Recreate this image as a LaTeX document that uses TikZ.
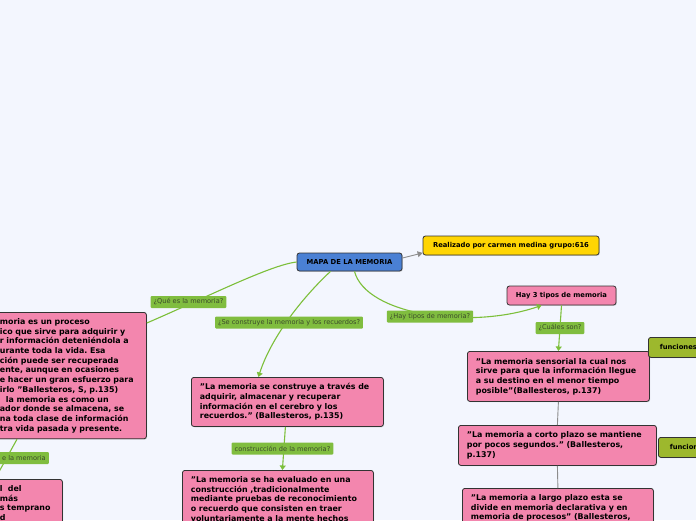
\documentclass[tikz,border=0pt]{standalone}
\usepackage{fontspec}
\setmainfont{DejaVu Sans}
\usepackage{xcolor}
\usetikzlibrary{arrows.meta, positioning, calc, shadows}
\frenchspacing

\definecolor{paper}{HTML}{F3F6FE}
\definecolor{notepink}{HTML}{F386AE}
\definecolor{mapblue}{HTML}{4A80D4}
\definecolor{doneyellow}{HTML}{FFD503}
\definecolor{useolive}{HTML}{9DB82D}
\definecolor{taggreen}{HTML}{80BD3F}
\definecolor{tagtext}{HTML}{3B4A2A}
\definecolor{linkgreen}{HTML}{7CBF3A}

\begin{document}
\begin{tikzpicture}[
      x=1pt, y=-1pt,
      topic/.style={draw=black!80, line width=0.8pt, rounded corners=2.5pt,
        font=\bfseries\fontsize{6.8}{8}\selectfont, minimum height=19pt, inner sep=0pt,
        drop shadow={shadow xshift=0.8pt, shadow yshift=-0.8pt, opacity=0.3}},
      note/.style={topic, fill=notepink, anchor=north west, align=left,
        font=\bfseries\fontsize{7.9}{9.7}\selectfont, inner xsep=8.5pt, inner ysep=6pt},
      tag/.style={fill=taggreen, text=tagtext, rounded corners=1pt, inner xsep=3pt,
        inner ysep=0pt, minimum height=12pt, font=\fontsize{6.6}{8}\selectfont},
      link/.style={draw=linkgreen, line width=1.1pt},
      fork/.style={draw=black!45, line width=0.9pt},
      tip/.style={-{Triangle[width=6pt,length=4.5pt]}}
    ]
  \useasboundingbox (0,0) rectangle (696,520);
  \fill[paper] (0,0) rectangle (696,520);

  % centre and side topics
  \node[topic, fill=mapblue, minimum width=105pt, minimum height=18pt] (map) at (349.5,262) {MAPA DE LA MEMORIA};
  \node[topic, fill=doneyellow, minimum width=176pt] (done) at (511,245.5) {Realizado por carmen medina grupo:616};
  \node[topic, fill=notepink, minimum width=109pt] (kinds) at (561.5,295.5) {Hay 3 tipos de memoria};

  % notes
  \node[note, text width=138pt, minimum height=125pt] (what) at (-9,312)
    {moria es un proceso\\ico que sirve para adquirir y\\r información deteniéndola a\\urante toda la vida. Esa\\ción puede ser recuperada\\ente, aunque en ocasiones\\e hacer un gran esfuerzo para\\irlo "Ballesteros, S, p.135)\\\hspace*{6pt}la memoria es como un\\ador donde se almacena, se\\na toda clase de información\\tra vida pasada y presente.};
  \node[note, text width=54pt] (early) at (-9,479)
    {l\ \ del\\más\\s temprano\\d};
  \node[note, text width=175pt, minimum height=49pt] (build) at (191,377)
    {"La memoria se construye a través de\\adquirir, almacenar y recuperar\\información en el cerebro y los\\recuerdos.” (Ballesteros, p.135)};
  \node[note, text width=174pt] (eval) at (182,470)
    {"La memoria se ha evaluado en una\\construcción ,tradicionalmente\\mediante pruebas de reconocimiento\\o recuerdo que consisten en traer\\voluntariamente a la mente hechos};
  \node[note, text width=165pt, minimum height=50pt] (sensory) at (467,351)
    {"La memoria sensorial la cual nos\\sirve para que la información llegue\\a su destino en el menor tiempo\\posible"(Ballesteros, p.137)};
  \node[note, text width=181pt, minimum height=40pt] (short) at (458,425)
    {"La memoria a corto plazo se mantiene\\por pocos segundos." (Ballesteros,\\p.137)};
  \node[note, text width=174pt] (long) at (462,488)
    {"La memoria a largo plazo esta se\\divide en memoria declarativa y en\\memoria de procesos" (Ballesteros,};

  \node[topic, fill=useolive, anchor=north west, minimum width=60pt, minimum height=20pt] (use1) at (648,337) {funciones};
  \node[topic, fill=useolive, anchor=north west, minimum width=60pt, minimum height=20pt] (use2) at (658,437) {funciones};

  % connectors
  \draw[link] (map.west) .. controls (270,265) and (205,298) .. ([yshift=-11pt]what.north east);
  \draw[link, tip] ([xshift=-19pt]map.south) .. controls (305,295) and (272,335) .. ([xshift=-29pt]build.north);
  \draw[link, tip] ([xshift=5pt]map.south) .. controls (366,315) and (470,330) .. ([xshift=-20pt]kinds.south);
  \draw[fork, -{Triangle[width=6pt,length=5pt]}] ([yshift=4pt]map.east) -- ([yshift=-7.5pt]done.west);
  \draw[link, tip] ([xshift=-2pt]build.south) -- ([xshift=4.5pt]eval.north);
  \draw[link, tip] (kinds.south) -- (sensory.north);
  \draw[fork] (sensory.south) -- (short.north);
  \draw[fork] (short.south) -- (long.north);
  \draw[link] ([xshift=26pt]what.south west) -- ([xshift=4pt]early.north west);

  % labels on the connectors
  \node[tag] (qwhat) at (188.5,302) {¿Qué es la memoria?};
  \node[tag] (qbuild) at (289,322.5) {¿Se construye la memoria y los recuerdos?};
  \node[tag] (qkinds) at (430,316.5) {¿Hay tipos de memoria?};
  \node[tag] (qeval) at (282.5,448.5) {construcción de la memoria?};
  \node[tag] (qwhich) at (560,328) {¿Cuáles son?};
  \node[tag, anchor=east] (qearly) at (49,458) {e la memoria};
\end{tikzpicture}
\end{document}
